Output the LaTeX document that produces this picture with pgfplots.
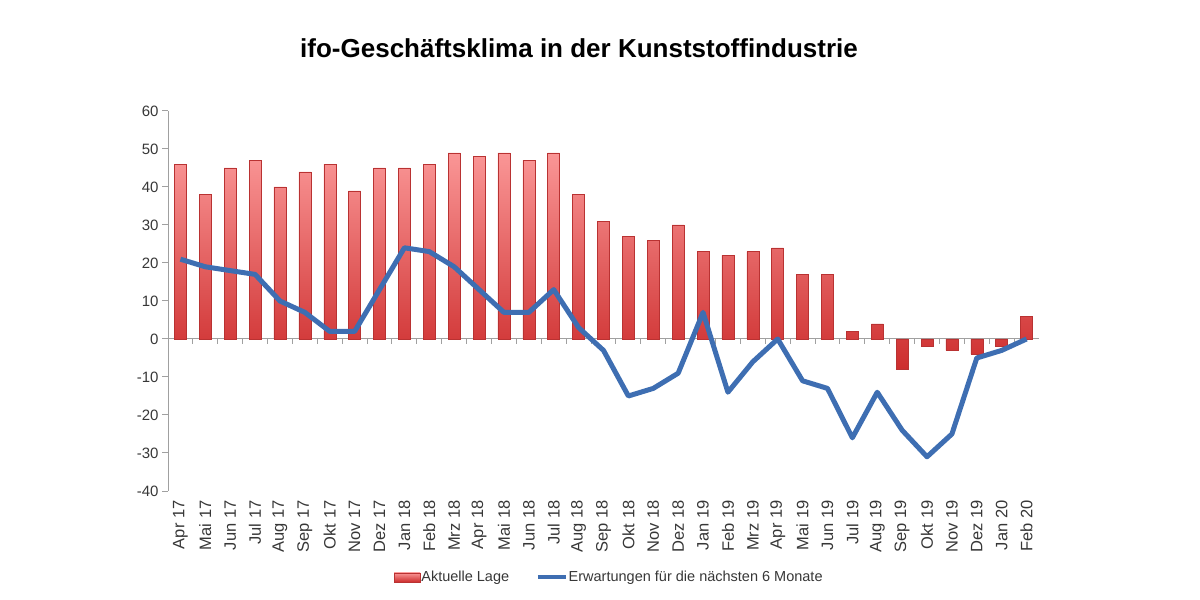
\documentclass[border=0pt]{standalone}
\usepackage{fontspec}
\setmainfont{Liberation Sans}
\usepackage{pgfplots}
\pgfplotsset{compat=1.18}
\usepackage{pgfplotstable}

\definecolor{barred}{RGB}{205,45,45}
\definecolor{barlight}{RGB}{250,150,150}
\definecolor{baredge}{RGB}{185,50,50}
\definecolor{lineblue}{RGB}{62,110,178}
\definecolor{axgray}{RGB}{160,160,160}
\definecolor{txtgray}{RGB}{55,55,55}

\pgfplotstableread{
x lage erw
0 46 21
1 38 19
2 45 18
3 47 17
4 40 10
5 44 7
6 46 2
7 39 2
8 45 13
9 45 24
10 46 23
11 49 19
12 48 13
13 49 7
14 47 7
15 49 13
16 38 3
17 31 -3
18 27 -15
19 26 -13
20 30 -9
21 23 7
22 22 -14
23 23 -6
24 24 0
25 17 -11
26 17 -13
27 2 -26
28 4 -14
29 -8 -24
30 -2 -31
31 -3 -25
32 -4 -5
33 -2 -3
34 6 0
}\data

\begin{document}
\begin{tikzpicture}[x=1pt,y=1pt]
\path[use as bounding box] (0,0) rectangle (1200,600);
\node[font=\fontsize{26}{30}\selectfont\bfseries] at (579,552) {ifo-Geschäftsklima in der Kunststoffindustrie};
\begin{axis}[at={(168pt,109pt)}, anchor=south west, scale only axis,
  width=871pt, height=380pt,
  xmin=-0.5, xmax=34.5, ymin=-40, ymax=60,
  ytick={-40,-30,...,60},
  xtick={0,...,34},
  xticklabels={Apr 17,Mai 17,Jun 17,Jul 17,Aug 17,Sep 17,Okt 17,Nov 17,Dez 17,Jan 18,Feb 18,Mrz 18,Apr 18,Mai 18,Jun 18,Jul 18,Aug 18,Sep 18,Okt 18,Nov 18,Dez 18,Jan 19,Feb 19,Mrz 19,Apr 19,Mai 19,Jun 19,Jul 19,Aug 19,Sep 19,Okt 19,Nov 19,Dez 19,Jan 20,Feb 20},
  axis lines=left, axis line style={-},
  x axis line style={draw=none},
  y axis line style={axgray, line width=1pt},
  xtick style={draw=none},
  ytick style={axgray, line width=1pt},
  tick align=outside, major tick length=6pt,
  /pgf/number format/assume math mode=true,
  yticklabel style={font=\fontsize{15}{18}\selectfont, text=txtgray},
  xticklabel style={rotate=90, anchor=east, font=\fontsize{16.5}{19}\selectfont, text=txtgray},
  legend style={at={(0.506,-0.226)}, anchor=center, draw=none, fill=none,
    legend columns=2, font=\fontsize{14.5}{18}\selectfont, text=txtgray,
    nodes={inner sep=1pt},
    /tikz/every even column/.append style={column sep=26pt}},
  clip=false,
]
\addplot[axgray, line width=1pt, no marks, forget plot] coordinates {(-0.5,0) (34.5,0)};
\addplot[ycomb, axgray, line width=1pt, no marks, forget plot] coordinates {
(0.5,-1.2) (1.5,-1.2) (2.5,-1.2) (3.5,-1.2) (4.5,-1.2) (5.5,-1.2) (6.5,-1.2) (7.5,-1.2) (8.5,-1.2) (9.5,-1.2)
(10.5,-1.2) (11.5,-1.2) (12.5,-1.2) (13.5,-1.2) (14.5,-1.2) (15.5,-1.2) (16.5,-1.2) (17.5,-1.2) (18.5,-1.2) (19.5,-1.2)
(20.5,-1.2) (21.5,-1.2) (22.5,-1.2) (23.5,-1.2) (24.5,-1.2) (25.5,-1.2) (26.5,-1.2) (27.5,-1.2) (28.5,-1.2) (29.5,-1.2)
(30.5,-1.2) (31.5,-1.2) (32.5,-1.2) (33.5,-1.2)};
\addplot[ybar, bar width=12pt, draw=baredge, line width=0.5pt, top color=barlight, bottom color=barred,
  legend image code/.code={\draw[draw=baredge, top color=barlight, bottom color=barred] (0pt,-5pt) rectangle (26pt,4pt);}]
  table[x=x, y=lage] {\data};
\addlegendentry{Aktuelle Lage}
\addplot[lineblue, line width=5pt, no marks, line join=round,
  legend image code/.code={\draw[lineblue, line width=3.5pt] (0pt,0pt) -- (28pt,0pt);}]
  table[x=x, y=erw] {\data};
\addlegendentry{Erwartungen für die nächsten 6 Monate}
\end{axis}
\end{tikzpicture}
\end{document}
